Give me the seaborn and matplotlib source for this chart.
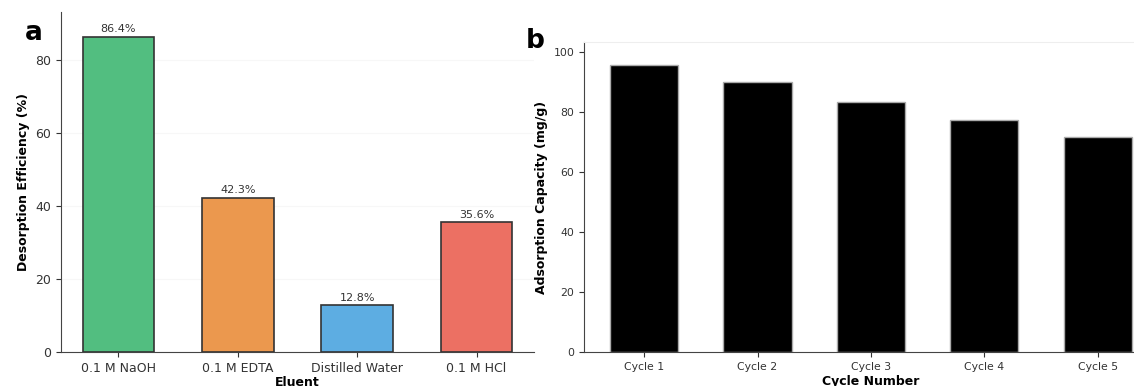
import numpy as np
import pandas as pd
import seaborn as sns
import matplotlib.pyplot as plt

# datos panel a
eluentes = ["0.1 M NaOH", "0.1 M EDTA", "Distilled Water", "0.1 M HCl"]
desorcion = [86.4, 42.3, 12.8, 35.6]
colores = ["#52BE80", "#EB984E", "#5DADE2", "#EC7063"]

# datos panel b
ciclos = ["Cycle 1", "Cycle 2", "Cycle 3", "Cycle 4", "Cycle 5"]
capacidad = [95.8, 90.1, 83.5, 77.6, 71.9]

sns.set_style("ticks")
plt.rcParams['font.family'] = ['DejaVu Sans']

fig = plt.figure(figsize=(11.34, 3.86), dpi=100)
ax1 = fig.add_axes([0.0538, 0.088, 0.417, 0.881])
ax2 = fig.add_axes([0.515, 0.088, 0.506, 0.803])

df_a = pd.DataFrame({"Eluent": eluentes, "Eff": desorcion})
sns.barplot(data=df_a, x="Eluent", y="Eff", hue="Eluent", palette=colores,
            legend=False, width=0.6, edgecolor="#333333", linewidth=1.2,
            saturation=1, ax=ax1, zorder=3)
for cont, v in zip(ax1.containers, desorcion):
    ax1.bar_label(cont, labels=[f"{v}%"], padding=2, fontsize=8, color="#333333")
ax1.set_xlim(-0.48, 3.48)
ax1.set_ylim(0, max(desorcion) * 1.08)
ax1.set_yticks([0, 20, 40, 60, 80])
ax1.set_xlabel("Eluent", fontsize=9, fontweight="bold", labelpad=1, color="black")
ax1.set_ylabel("Desorption Efficiency (%)", fontsize=9, fontweight="bold", color="black")
ax1.tick_params(labelsize=9, colors="#333333", length=3.5)
ax1.grid(axis="y", linestyle="-", alpha=0.15, zorder=0)
sns.despine(ax=ax1)
for s in ["left", "bottom"]:
    ax1.spines[s].set_color("#444444")

df_b = pd.DataFrame({"Cycle": ciclos, "Cap": capacidad})
sns.barplot(data=df_b, x="Cycle", y="Cap", color="black", saturation=1,
            width=0.6, edgecolor="#aaaaaa", linewidth=1, ax=ax2)
ax2.set_xlim(-0.53, 4.53)
ax2.set_ylim(0, max(capacidad) * 1.08)
ax2.set_yticks([0, 20, 40, 60, 80, 100])
ax2.set_xlabel("Cycle Number", fontsize=9, fontweight="bold", labelpad=2, color="black")
ax2.set_ylabel("Adsorption Capacity (mg/g)", fontsize=9, fontweight="bold", color="black")
ax2.tick_params(labelsize=7.8, colors="#333333", length=3.5)
sns.despine(ax=ax2, right=True, top=False)
ax2.spines["top"].set_color("#eeeeee")
for s in ["left", "bottom"]:
    ax2.spines[s].set_color("#444444")

fig.text(0.022, 0.915, "a", fontsize=19, fontweight="heavy", va="center", color="black")
fig.text(0.464, 0.894, "b", fontsize=19, fontweight="heavy", va="center", color="black")

fig.savefig("out.png", dpi=100)
